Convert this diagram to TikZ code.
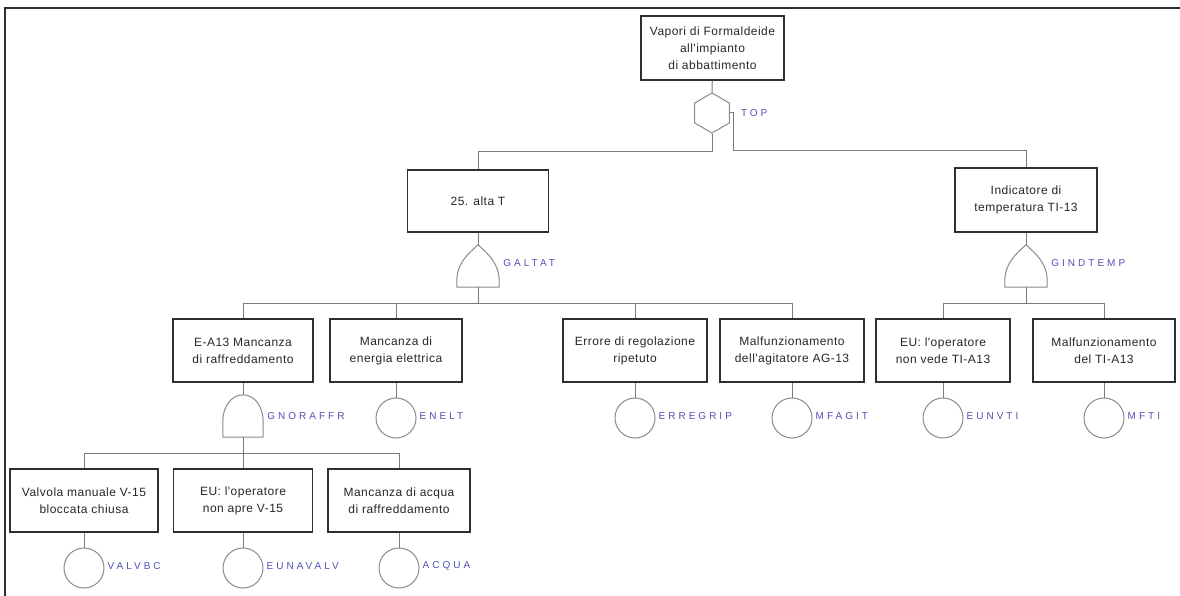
\documentclass[tikz,border=0pt]{standalone}
\usepackage{fontspec}
\usetikzlibrary{positioning, shapes.geometric}
\newfontfamily\boxfont[LetterSpace=4]{Liberation Sans}
\newfontfamily\labfont[LetterSpace=30]{Liberation Sans}
\definecolor{ink}{HTML}{262626}
\definecolor{edge}{HTML}{2E2E2E}
\definecolor{wirec}{HTML}{7A7A7A}
\definecolor{gatec}{HTML}{8A8A8A}
\definecolor{labc}{HTML}{4F4FB5}

\begin{document}
\begin{tikzpicture}[x=1pt, y=-1pt,
  box/.style={draw=edge, line width=1.3pt, align=center, text=ink,
              font=\boxfont\fontsize{12}{17}\selectfont,
              minimum height=63pt, inner sep=2pt},
  wire/.style={draw=wirec, line width=1pt},
  gate/.style={draw=gatec, line width=1pt},
  gatebox/.style={minimum width=42pt, minimum height=42pt, inner sep=0pt},
  ev/.style={circle, gate, minimum size=40pt, inner sep=0pt},
  lab/.style={font=\labfont\fontsize{10}{11}\selectfont, text=labc, inner sep=1pt}
]
\useasboundingbox (0,0) rectangle (1180,596);
\draw[edge, line width=2pt] (5,596) -- (5,8) -- (1180,8);

% events
\node[box, minimum width=143pt, minimum height=64pt] (top) at (712.5,48)
  {Vapori di Formaldeide\\all'impianto\\di abbattimento};
\node[box, minimum width=141pt, minimum height=62pt] (alta) at (478,201) {25. alta T};
\node[box, minimum width=142pt, minimum height=64pt] (indic) at (1026,200)
  {Indicatore di\\temperatura TI-13};
\node[box, minimum width=140pt] (raffr)    at (243,350.5) {E-A13 Mancanza\\di raffreddamento};
\node[box, minimum width=132pt] (enel)     at (396,350.5) {Mancanza di\\energia elettrica};
\node[box, minimum width=144pt] (errore)   at (635,350.5) {Errore di regolazione\\ripetuto};
\node[box, minimum width=144pt] (malfagit) at (792,350.5) {Malfunzionamento\\dell'agitatore AG-13};
\node[box, minimum width=134pt] (eunv)     at (943,350.5) {EU: l'operatore\\non vede TI-A13};
\node[box, minimum width=142pt] (mfti)     at (1104,350.5) {Malfunzionamento\\del TI-A13};
\node[box, minimum width=148pt] (valv)     at (84,500.5) {Valvola manuale V-15\\bloccata chiusa};
\node[box, minimum width=139pt] (euap)     at (243,500.5) {EU: l'operatore\\non apre V-15};
\node[box, minimum width=142pt] (acqua)    at (399,500.5) {Mancanza di acqua\\di raffreddamento};

% gates
\node[regular polygon, regular polygon sides=6, shape border rotate=30,
      minimum size=40pt, inner sep=0pt, gate] (hex) at (712,113) {};
\node[gatebox] (galtat)   at (478,266) {};
\node[gatebox] (gindtemp) at (1026,266) {};
\node[gatebox, minimum width=40pt] (gnoraffr) at (243,416) {};
\foreach \g in {galtat,gindtemp}
  \draw[gate] (\g.south west) -- ++(0,-6) .. controls +(0,-18) and +(-10,9) .. (\g.north)
    .. controls +(10,9) and +(0,-18) .. ([yshift=6pt]\g.south east) -- (\g.south east) -- cycle;
\draw[gate] (gnoraffr.south west) -- ++(0,-16) .. controls +(0,-14) and +(-12,0) .. (gnoraffr.north)
  .. controls +(12,0) and +(0,-14) .. ([yshift=16pt]gnoraffr.south east) -- (gnoraffr.south east) -- cycle;

% basic events
\node[ev] (enelt)    at (396,418) {};
\node[ev] (erregrip) at (635,418) {};
\node[ev] (mfagit)   at (792,418) {};
\node[ev] (eunvti)   at (943,418) {};
\node[ev] (mftiev)   at (1104,418) {};
\node[ev] (valvbc)   at (84,568) {};
\node[ev] (eunavalv) at (243,568) {};
\node[ev] (acquaev)  at (399,568) {};

% labels
\node[lab, right=10pt of hex] {TOP};
\node[lab, right=3pt of galtat, yshift=3pt] {GALTAT};
\node[lab, right=3pt of gindtemp, yshift=3pt] {GINDTEMP};
\node[lab, right=3pt of gnoraffr] {GNORAFFR};
\foreach \e/\t in {enelt/ENELT, erregrip/ERREGRIP, mfagit/MFAGIT, eunvti/EUNVTI,
                   mftiev/MFTI, valvbc/VALVBC, eunavalv/EUNAVALV, acquaev/ACQUA}
  \node[lab, right=2pt of \e, yshift=2pt] {\t};

% connectors
\draw[wire] (top) -- (hex);
\draw[wire] (hex.south) -- ++(0,18) -| (alta.north);
\draw[wire] (hex.east) -- ++(4,0) -- ++(0,38) -| (indic.north);
\draw[wire] (alta) -- (galtat.north);
\draw[wire] (indic) -- (gindtemp.north);
\draw[wire] (raffr) -- (gnoraffr.north);
\draw[wire] (galtat.south) -- ++(0,16) coordinate (bus1);
\draw[wire] (gindtemp.south) -- ++(0,16) coordinate (bus2);
\draw[wire] (gnoraffr.south) -- ++(0,16) coordinate (bus3);
\foreach \c in {raffr,enel,errore,malfagit} \draw[wire] (bus1) -| (\c.north);
\foreach \c in {eunv,mfti} \draw[wire] (bus2) -| (\c.north);
\foreach \c in {valv,euap,acqua} \draw[wire] (bus3) -| (\c.north);
\foreach \b/\e in {enel/enelt, errore/erregrip, malfagit/mfagit, eunv/eunvti,
                   mfti/mftiev, valv/valvbc, euap/eunavalv, acqua/acquaev}
  \draw[wire] (\b) -- (\e);
\end{tikzpicture}
\end{document}
